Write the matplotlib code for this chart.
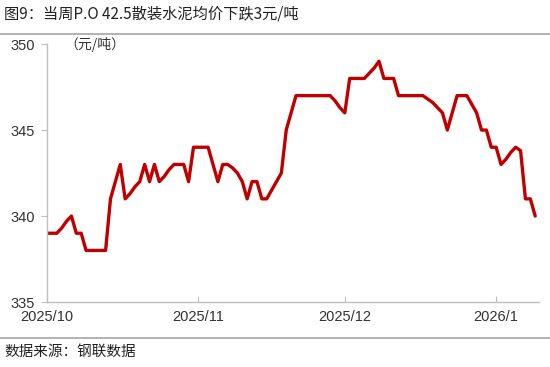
import pandas as pd
import matplotlib.pyplot as plt
from matplotlib.lines import Line2D

plt.rcParams['font.family'] = ['Noto Sans CJK SC', 'DejaVu Sans']

# 日度价格 2025/10/1 - 2026/1/9 (元/吨)
dates = pd.date_range('2025-10-01', '2026-01-09', freq='D')
prices = [
    339, 339, 339, 339.3, 339.7, 340, 339, 339, 338, 338,
    338, 338, 338, 341, 342, 343, 341, 341.3, 341.7, 342,
    343, 342, 343, 342, 342.3, 342.7, 343, 343, 343, 342,
    344, 344, 344, 344, 343, 342, 343, 343, 342.8, 342.5,
    342, 341, 342, 342, 341, 341, 341.5, 342, 342.5, 345,
    346, 347, 347, 347, 347, 347, 347, 347, 347, 346.7,
    346.3, 346, 348, 348, 348, 348, 348.3, 348.6, 349, 348,
    348, 348, 347, 347, 347, 347, 347, 347, 346.8, 346.6,
    346.3, 346, 345, 346, 347, 347, 347, 346.5, 346, 345,
    345, 344, 344, 343, 343.3, 343.7, 344, 343.8, 341, 341,
    340,
]
xticks = ['2025-10-01', '2025-11-01', '2025-12-01', '2026-01-01']
xlabels = ['2025/10', '2025/11', '2025/12', '2026/1']
yticks = [335, 340, 345, 350]

fig = plt.figure(figsize=(5.5, 3.67), dpi=100)
ax = fig.add_axes([0.0855, 0.177, 0.895, 0.703])

ax.plot(dates, prices, color='#c00000', lw=2.4, solid_joinstyle='round', solid_capstyle='round')

ax.set_ylim(335, 350)
ax.set_yticks(yticks)
ax.set_xlim(pd.Timestamp('2025-10-01'), pd.Timestamp('2026-01-09 20:00'))
ax.set_xticks(pd.to_datetime(xticks))
ax.set_xticklabels(xlabels)

for s in ['top', 'right']:
    ax.spines[s].set_visible(False)
for s in ['left', 'bottom']:
    ax.spines[s].set_color('#bfbfbf')
    ax.spines[s].set_linewidth(1)
ax.tick_params(axis='y', direction='out', length=4, color='#bfbfbf', labelsize=10.5,
               labelcolor='#333333', pad=5)
ax.tick_params(axis='x', direction='in', length=4, color='#bfbfbf', labelsize=10.5,
               labelcolor='#333333', pad=6)
for lab in ax.get_xticklabels() + ax.get_yticklabels():
    lab.set_family(['Liberation Sans', 'DejaVu Sans'])

ax.text(0.035, 1.0, '（元/吨）', transform=ax.transAxes, fontsize=10, color='#333333',
        va='center', ha='left')

fig.text(0.008, 0.962, '图9：当周P.O 42.5散装水泥均价下跌3元/吨', fontsize=11,
         color='#222222', va='center', ha='left')
fig.add_artist(Line2D([0, 1], [0.907, 0.907], transform=fig.transFigure, color='#a6a6a6', lw=1.2))
fig.add_artist(Line2D([0, 1], [0.079, 0.079], transform=fig.transFigure, color='#a6a6a6', lw=1.2))
fig.text(0.008, 0.04, '数据来源：钢联数据', fontsize=10.5, color='#222222', va='center', ha='left')

fig.savefig('out.png', dpi=100)
